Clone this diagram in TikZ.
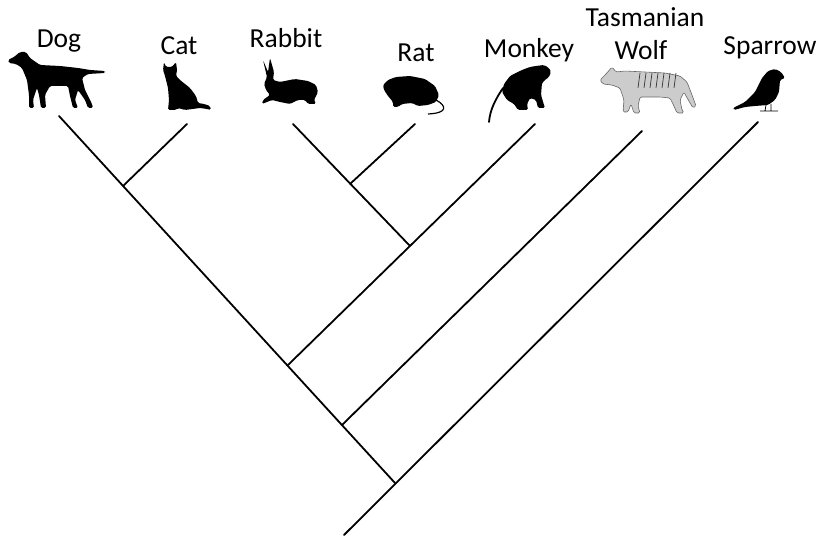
\documentclass[tikz,border=0pt]{standalone}
\usepackage{fontspec}
\setmainfont{Carlito}
\usepackage{tikz}
\pgfmathsetmacro{\cladewidth}{1.8}

\begin{document}
\begin{tikzpicture}[x=1pt, y=-1pt,
    branch/.style={line width=\cladewidth pt, line cap=round},
    taxon/.style={anchor=base, inner sep=0pt, font=\fontsize{27.5}{30}\selectfont},
    shadow/.style={fill=black, rounded corners=1.5pt}]
    \useasboundingbox (0,0) rectangle (822,537);
    % define tips
    \coordinate (dogtip) at (59,116);
    \coordinate (cattip) at (187,124);
    \coordinate (rabbittip) at (293,124);
    \coordinate (rattip) at (415,124);
    \coordinate (monkeytip) at (535,124);
    \coordinate (wolftip) at (642,131);
    \coordinate (sparrowtip) at (758,122);
    % define branch points
    \coordinate (dogcat) at (123,186);
    \coordinate (rabbitrat) at (350,184);
    \coordinate (rodmonkey) at (410,246);
    \coordinate (monkeyjoin) at (288,365);
    \coordinate (wolfjoin) at (342,425);
    \coordinate (sparrowjoin) at (395,483);
    \coordinate (root) at (344,535);
    % draw tree
    \draw[branch] (dogtip) -- (sparrowjoin);
    \draw[branch] (root) -- (sparrowtip);
    \draw[branch] (cattip) -- (dogcat);
    \draw[branch] (rabbittip) -- (rodmonkey);
    \draw[branch] (rattip) -- (rabbitrat);
    \draw[branch] (monkeytip) -- (monkeyjoin);
    \draw[branch] (wolftip) -- (wolfjoin);
    % add labels
    \node[taxon] (dog) at (59,48) {Dog};
    \node[taxon] (cat) at (179,55) {Cat};
    \node[taxon] (rabbit) at (286,48) {Rabbit};
    \node[taxon] (rat) at (416,62) {Rat};
    \node[taxon] (monkey) at (529,58) {Monkey};
    \node[taxon] (tasmanian) at (645,27) {Tasmanian};
    \node[taxon] (wolf) at (641,60) {Wolf};
    \node[taxon] (sparrow) at (770,55) {Sparrow};
    % draw silhouettes (rough)
    % dog
    \fill[shadow] (8,60) -- (14,57) -- (20,52) -- (26,52) -- (30,58) -- (40,65) -- (60,66)
        -- (78,68) -- (90,70) -- (105,71) -- (105,73) -- (88,74) -- (82,78) -- (85,90)
        -- (92,104) -- (93,108) -- (88,108) -- (85,100) -- (78,90) -- (75,100) -- (78,108)
        -- (73,108) -- (70,96) -- (68,86) -- (50,86) -- (45,95) -- (46,108) -- (41,108)
        -- (39,95) -- (37,88) -- (33,100) -- (34,108) -- (29,108) -- (29,95) -- (27,80)
        -- (22,68) -- (16,64) -- (9,63) -- cycle;
    % cat
    \fill[shadow] (164,62) -- (166,67) -- (172,67) -- (176,62) -- (177,70) -- (176,76)
        -- (180,80) -- (190,88) -- (196,96) -- (198,103) -- (204,104) -- (210,106)
        -- (211,110) -- (207,109) -- (200,108) -- (185,110) -- (178,108) -- (176,110)
        -- (168,110) -- (169,100) -- (168,88) -- (165,76) -- (163,70) -- cycle;
    % rabbit
    \fill[shadow] (263,60) -- (268,72) -- (270,58) -- (274,72) -- (273,80) -- (280,82)
        -- (295,79) -- (308,81) -- (316,85) -- (318,92) -- (314,100) -- (316,104)
        -- (308,104) -- (305,100) -- (298,100) -- (290,104) -- (280,102) -- (272,100)
        -- (262,104) -- (263,100) -- (270,95) -- (266,90) -- (264,84) -- (267,77) -- cycle;
    % rat
    \fill[shadow] (383,85) -- (388,80) -- (396,77) -- (410,76) -- (425,79) -- (435,86)
        -- (439,95) -- (436,102) -- (428,105) -- (418,106) -- (412,103) -- (402,104)
        -- (398,107) -- (393,107) -- (393,102) -- (388,96) -- (384,90) -- cycle;
    \draw[line width=1.2pt] (436,100) .. controls (447,106) and (448,113) .. (428,114);
    % monkey
    \fill[shadow] (536,66) -- (544,65) -- (549,68) -- (551,72) -- (549,77) -- (545,80)
        -- (542,83) -- (541,95) -- (544,105) -- (545,108) -- (538,108) -- (536,100)
        -- (530,98) -- (527,104) -- (528,110) -- (518,110) -- (514,104) -- (507,100)
        -- (502,92) -- (504,84) -- (510,76) -- (522,70) -- (530,67) -- cycle;
    \draw[line width=1.8pt, line cap=round] (503,88) .. controls (495,100) and (490,110) .. (489,122);
    % tasmanian wolf
    \filldraw[shadow, fill=gray!40, draw=gray!80!black, line width=0.6pt]
        (600,80) -- (606,74) -- (612,67) -- (616,72) -- (625,71) -- (645,72) -- (665,73)
        -- (680,76) -- (687,82) -- (692,95) -- (696,106) -- (693,108) -- (686,96)
        -- (684,92) -- (680,100) -- (682,110) -- (684,113) -- (677,113) -- (673,104)
        -- (670,98) -- (660,97) -- (640,97) -- (638,106) -- (640,113) -- (634,113)
        -- (631,104) -- (628,112) -- (623,112) -- (624,100) -- (620,88) -- (612,85)
        -- (603,84) -- cycle;
    \foreach \sx in {640,646,652,658,664,670,676}
        \draw[gray!40!black, line width=0.7pt] (\sx,73) -- (\sx-2,88);
    % sparrow
    \fill[shadow] (733,108) -- (745,102) -- (755,92) -- (762,78) -- (768,71) -- (775,69)
        -- (781,72) -- (785,78) -- (780,80) -- (779,92) -- (775,100) -- (768,105)
        -- (755,106) -- (745,107) -- (734,110) -- cycle;
    \draw[line width=0.8pt] (766,105) -- (765,111) (771,104) -- (771,111) (760,111) -- (778,111);
\end{tikzpicture}
\end{document}
